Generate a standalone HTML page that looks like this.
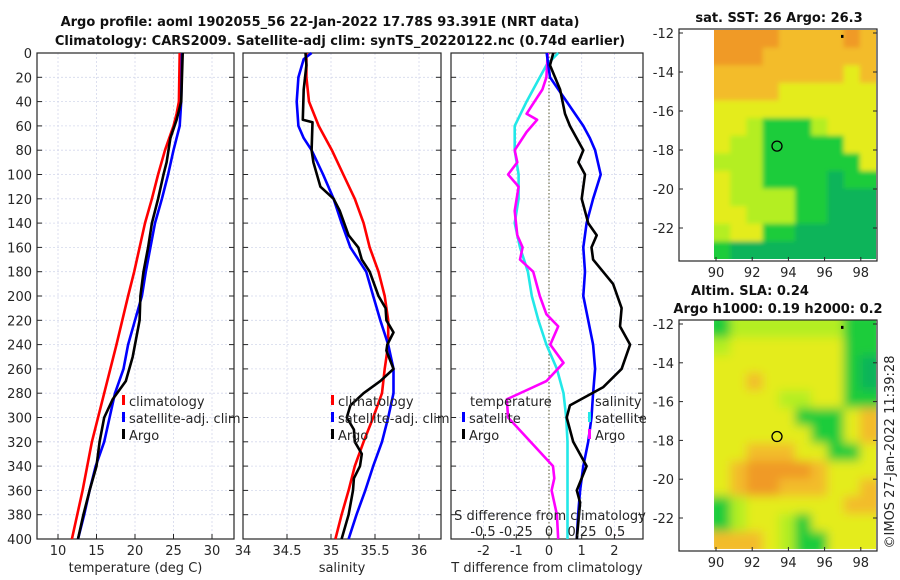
<!DOCTYPE html>
<html><head><meta charset="utf-8">
<style>
html,body{margin:0;padding:0;background:#fff;}
svg{display:block;font-family:"DejaVu Sans","Liberation Sans",sans-serif;}
</style></head>
<body>
<svg id="fig" width="900" height="580" viewBox="0 0 900 580" xmlns="http://www.w3.org/2000/svg">
<g id="maps"></g>
<g id="plots"></g>
</svg>
<script>
// ---------- data ----------
const depthTicks = [0,20,40,60,80,100,120,140,160,180,200,220,240,260,280,300,320,340,360,380,400];
const tempTicks = [10,15,20,25,30];
const salTicks = [34,34.5,35,35.5,36];
const tdiffTicks = [-2,-1,0,1,2];
const sdiffTickLabels = ["-0.5","-0.25","0","0.25","0.5"];
const sdiffTicks = [-0.5,-0.25,0,0.25,0.5];

const climTempDepth = [0,40,50,60,80,100,120,140,160,180,200,240,280,320,360,400];
const climTemp = [25.8,25.7,25.4,25.0,23.9,23.0,22.2,21.3,20.6,19.9,19.1,17.6,16.0,14.4,13.2,11.8];
const satTempDepth = [0,40,60,80,100,120,140,160,180,200,220,240,260,280,300,320,340,360,380,400];
const satTemp = [26.1,26.0,25.8,25.0,24.3,23.5,22.6,22.0,21.4,20.9,20.0,19.1,18.5,17.4,16.7,16.0,14.9,14.1,13.4,12.6];
const argoTempDepth = [0,40,55,70,90,100,120,140,160,180,200,220,240,250,270,285,300,320,340,360,380,400];
const argoTemp = [26.2,26.0,25.4,24.6,24.1,23.7,23.0,22.2,21.7,21.1,20.7,20.6,20.0,19.7,18.8,17.1,16.0,15.4,15.0,14.1,13.3,12.6];

const climSalDepth = [0,20,40,60,80,100,120,140,160,180,200,220,240,260,280,300,320,340,360,380,400];
const climSal = [34.72,34.72,34.75,34.86,35.01,35.14,35.27,35.37,35.44,35.54,35.61,35.65,35.65,35.61,35.58,35.48,35.37,35.27,35.20,35.12,35.05];
const satSalDepth = [0,5,20,40,60,70,80,100,120,140,160,180,200,220,240,260,280,300,320,340,360,380,400];
const satSal = [34.78,34.69,34.63,34.61,34.63,34.69,34.78,34.91,35.03,35.12,35.22,35.40,35.48,35.56,35.65,35.71,35.71,35.65,35.58,35.48,35.39,35.29,35.20];
const argoSalDepth = [0,10,30,55,57,80,90,110,120,130,150,160,170,180,200,210,220,230,240,245,260,270,280,290,300,310,320,330,340,350,360,380,400];
const argoSal = [34.71,34.72,34.69,34.68,34.79,34.78,34.80,34.88,35.03,35.10,35.20,35.31,35.35,35.44,35.54,35.62,35.63,35.71,35.64,35.63,35.71,35.56,35.37,35.22,35.18,35.26,35.27,35.35,35.33,35.26,35.25,35.20,35.12];

const satTdiffDepth = [0,20,40,60,70,80,100,120,140,160,180,200,220,240,260,280,300,320,340,360,380,400];
const satTdiff = [-0.07,0.03,0.54,1.05,1.25,1.41,1.58,1.35,1.15,1.05,1.1,1.05,1.2,1.35,1.41,1.35,1.3,1.2,1.05,0.95,0.89,0.85];
const argoTdiffDepth = [0,10,30,50,60,80,90,100,120,140,150,160,170,190,210,225,240,260,275,290,300,320,340,360,370,400];
const argoTdiff = [0.13,0.03,0.34,0.49,0.64,1.05,0.9,1.1,1.0,1.2,1.46,1.3,1.35,1.96,2.22,2.17,2.48,2.22,1.66,0.64,0.54,0.74,1.15,0.85,0.95,0.85];
const satSdiffDepth = [0,10,20,40,60,80,100,120,140,160,180,200,220,240,260,280,300,320,340,360,380,400];
const satSdiff = [0.07,-0.02,-0.07,-0.17,-0.26,-0.26,-0.23,-0.23,-0.26,-0.22,-0.16,-0.13,-0.08,-0.02,0.06,0.11,0.13,0.14,0.14,0.14,0.14,0.14];
const argoSdiffDepth = [0,20,30,45,50,55,65,80,90,100,110,130,150,160,170,180,200,215,225,240,255,270,285,300,320,340,350,360,380,400];
const argoSdiff = [-0.01,-0.02,-0.05,-0.14,-0.17,-0.09,-0.17,-0.26,-0.24,-0.31,-0.23,-0.26,-0.24,-0.2,-0.22,-0.12,-0.07,-0.02,0.07,0.01,0.11,-0.02,-0.32,-0.31,-0.14,0.03,0.04,0.02,0.06,0.07];

const latTicks = [-12,-14,-16,-18,-20,-22];
const lonTicks = [90,92,94,96,98];
const sstGrid = [
"OOOOooooOo","OOOooooooo","ooooooooYo","ooooYYYYYY","YYYYYYYYYY","YYyGGGyYYY",
"YyyGGGGGYY","yyyGGGGGGY","YyyGGGGgGG","YyyyyGGggg","YYyyyGGggg","yYYGGggggg","Gggggggggg"];
const slaGrid = [
"GyyyyyyyGG","yYYYYYYYGG","YYYYYYYYGg","YYoYYYYYGg","YYYYyyYYGG","YYYYYGGGYo",
"YYYYYYGGYo","YYoooYYGGY","YoOOOOoYYY","YoOOoooYYo","GyYYYYYYoo","GyYYyGYYYY","oooYyGGYYY"];

// ---------- helpers ----------
const NS = "http://www.w3.org/2000/svg";
function mk(parent, tag, attrs, name, text){
  const el = document.createElementNS(NS, tag);
  for (const k in attrs) el.setAttribute(k, attrs[k]);
  
  
  if (text !== undefined) el.textContent = text;
  parent.appendChild(el);
  return el;
}
const plots = document.getElementById('plots');
const maps = document.getElementById('maps');
const TOP = 53, BOT = 539;
const yD = d => TOP + d * (BOT - TOP) / 400;
const xT = t => 58 + (t - 10) * 7.7;
const xS = s => 243 + (s - 34) * 88;
const xTD = t => 549 + t * 32.7;
const xSD = s => 549 + s * 132;

function panel(x0, x1, vticks, vx, vlabels, xtitle, showY){
  const g = mk(plots, 'g', {}, 'profile-panel');
  depthTicks.forEach(d => {
    mk(g, 'line', {x1:x0, x2:x1, y1:yD(d), y2:yD(d), stroke:'#d4d8ec', 'stroke-width':0.8, 'stroke-dasharray':'2,2'}, 'depth-gridline');
    mk(g, 'line', {x1:x0, x2:x0+5, y1:yD(d), y2:yD(d), stroke:'#262626', 'stroke-width':1}, 'depth-tick');
    mk(g, 'line', {x1:x1-5, x2:x1, y1:yD(d), y2:yD(d), stroke:'#262626', 'stroke-width':1}, 'depth-tick');
    if (showY) mk(g, 'text', {x:x0-5, y:yD(d)+5, 'text-anchor':'end', 'font-size':13, fill:'#262626'}, 'depth-tick-label', String(d));
  });
  vticks.forEach((v, i) => {
    const x = vx(v);
    mk(g, 'line', {x1:x, x2:x, y1:TOP, y2:BOT, stroke:'#d4d8ec', 'stroke-width':0.8, 'stroke-dasharray':'2,2'}, 'vertical-gridline');
    mk(g, 'line', {x1:x, x2:x, y1:BOT-5, y2:BOT, stroke:'#262626'}, 'x-tick');
    mk(g, 'text', {x:x, y:555, 'text-anchor':'middle', 'font-size':13, fill:'#262626'}, 'x-tick-label', vlabels[i]);
  });
  mk(g, 'rect', {x:x0, y:TOP, width:x1-x0, height:BOT-TOP, fill:'none', stroke:'#262626', 'stroke-width':1.2}, 'panel-frame');
  mk(g, 'text', {x:(x0+x1)/2, y:572, 'text-anchor':'middle', 'font-size':13, fill:'#262626'}, 'x-axis-title', xtitle);
  return g;
}
function series(g, depths, vals, xf, color, name){
  const pts = depths.map((d, i) => xf(vals[i]).toFixed(1) + ',' + yD(d).toFixed(1)).join(' ');
  mk(g, 'polyline', {points:pts, fill:'none', stroke:color, 'stroke-width':2.6, 'stroke-linejoin':'round'}, name);
}
function legendEntry(g, x, y, color, label, name){
  mk(g, 'rect', {x:x, y:y-11, width:3, height:10, fill:color}, name + '-marker');
  mk(g, 'text', {x:x+7, y:y, 'font-size':13, fill:'#262626'}, name + '-label', label);
}

// titles
mk(plots, 'text', {x:320, y:26, 'text-anchor':'middle', 'font-size':13, 'font-weight':'bold', fill:'#111'}, 'chart-title-line1', 'Argo profile: aoml 1902055_56 22-Jan-2022 17.78S 93.391E (NRT data)');
mk(plots, 'text', {x:340, y:45, 'text-anchor':'middle', 'font-size':13, 'font-weight':'bold', fill:'#111'}, 'chart-title-line2', 'Climatology: CARS2009. Satellite-adj clim: synTS_20220122.nc (0.74d earlier)');

// panel 1
const p1 = panel(37, 234, tempTicks, xT, tempTicks.map(String), 'temperature (deg C)', true);
series(p1, climTempDepth, climTemp, xT, '#ff0000', 'climatology-temperature-line');
series(p1, satTempDepth, satTemp, xT, '#0000ff', 'satellite-temperature-line');
series(p1, argoTempDepth, argoTemp, xT, '#000000', 'argo-temperature-line');
legendEntry(p1, 122, 406, '#ff0000', 'climatology', 'legend-climatology');
legendEntry(p1, 122, 423, '#0000ff', 'satellite-adj. clim', 'legend-satellite');
legendEntry(p1, 122, 440, '#000000', 'Argo', 'legend-argo');

// panel 2
const p2 = panel(243, 441, salTicks, xS, ['34','34.5','35','35.5','36'], 'salinity', false);
series(p2, climSalDepth, climSal, xS, '#ff0000', 'climatology-salinity-line');
series(p2, satSalDepth, satSal, xS, '#0000ff', 'satellite-salinity-line');
series(p2, argoSalDepth, argoSal, xS, '#000000', 'argo-salinity-line');
legendEntry(p2, 331, 406, '#ff0000', 'climatology', 'legend-climatology');
legendEntry(p2, 331, 423, '#0000ff', 'satellite-adj. clim', 'legend-satellite');
legendEntry(p2, 331, 440, '#000000', 'Argo', 'legend-argo');

// panel 3
const p3 = panel(451, 643, tdiffTicks, xTD, tdiffTicks.map(String), 'T difference from climatology', false);
mk(p3, 'line', {x1:549, x2:549, y1:TOP, y2:BOT, stroke:'#5a5a30', 'stroke-width':1, 'stroke-dasharray':'1.5,2'}, 'zero-line');
series(p3, satSdiffDepth, satSdiff, xSD, '#22e8e8', 'satellite-salinity-diff-line');
series(p3, argoSdiffDepth, argoSdiff, xSD, '#ff00ff', 'argo-salinity-diff-line');
series(p3, satTdiffDepth, satTdiff, xTD, '#0000ff', 'satellite-temperature-diff-line');
series(p3, argoTdiffDepth, argoTdiff, xTD, '#000000', 'argo-temperature-diff-line');
mk(p3, 'text', {x:470, y:406, 'font-size':13, fill:'#262626'}, 'legend-temperature-header', 'temperature');
mk(p3, 'text', {x:595, y:406, 'font-size':13, fill:'#262626'}, 'legend-salinity-header', 'salinity');
legendEntry(p3, 462, 423, '#0000ff', 'satellite', 'legend-temp-satellite');
legendEntry(p3, 462, 440, '#000000', 'Argo', 'legend-temp-argo');
legendEntry(p3, 588, 423, '#22e8e8', 'satellite', 'legend-sal-satellite');
legendEntry(p3, 588, 440, '#ff00ff', 'Argo', 'legend-sal-argo');
mk(p3, 'text', {x:550, y:520, 'text-anchor':'middle', 'font-size':13, fill:'#262626'}, 's-diff-axis-title', 'S difference from climatology');
sdiffTicks.forEach((s, i) => {
  mk(p3, 'text', {x:xSD(s), y:536, 'text-anchor':'middle', 'font-size':13, fill:'#262626'}, 's-diff-tick-label', sdiffTickLabels[i]);
});

// ---------- maps ----------
const colors = {O:'#f09a28', o:'#f3bc2a', Y:'#e4ec1a', y:'#b4ee22', G:'#1ccc3a', g:'#0cb45a'};
function mapPanel(top, bottom, imgTop, imgBot, grid, blur, name){
  const g = mk(maps, 'g', {}, name);
  const ix0 = 714, ix1 = 876;
  const rows = grid.length, cols = 10;
  const cw = (ix1-ix0)/cols, ch = (imgBot-imgTop)/rows;
  const clipId = name + '-clip';
  const defs = mk(g, 'defs', {}, 'map-defs');
  const cp = mk(defs, 'clipPath', {id:clipId}, 'map-clip');
  mk(cp, 'rect', {x:ix0, y:imgTop, width:ix1-ix0, height:imgBot-imgTop}, 'map-clip-rect');
  let filt = '';
  if (blur > 0){
    const f = mk(defs, 'filter', {id:name+'-blur', x:'-10%', y:'-10%', width:'120%', height:'120%'}, 'map-blur');
    mk(f, 'feGaussianBlur', {stdDeviation:blur}, 'map-blur-op');
    filt = 'url(#' + name + '-blur)';
  }
  const img = mk(g, 'g', {'clip-path':'url(#'+clipId+')'}, 'map-image');
  const inner = mk(img, 'g', filt ? {filter:filt} : {}, 'map-cells');
  grid.forEach((row, r) => {
    for (let c = 0; c < cols; c++){
      const ch_ = row[c] || 'Y';
      const ext = (r === 0 ? 8 : 0);
      const extB = (r === rows-1 ? 8 : 0);
      const extL = (c === 0 ? 8 : 0);
      const extR = (c === cols-1 ? 8 : 0);
      mk(inner, 'rect', {x:ix0 + c*cw - extL, y:imgTop + r*ch - ext, width:cw+0.6+extL+extR, height:ch+0.6+ext+extB, fill:colors[ch_] || colors.o}, 'map-cell');
    }
  });
  const latY = lat => top + 4 + (-12 - lat) * (bottom - top - 4 - 33) / 10 ;
  latTicks.forEach(l => {
    const y = latY(l);
    mk(g, 'line', {x1:679, x2:683, y1:y, y2:y, stroke:'#262626'}, 'lat-tick');
    mk(g, 'line', {x1:873, x2:877, y1:y, y2:y, stroke:'#262626'}, 'lat-tick');
    mk(g, 'text', {x:674, y:y+5, 'text-anchor':'end', 'font-size':13, fill:'#262626'}, 'lat-tick-label', String(l));
  });
  lonTicks.forEach(l => {
    const x = 716 + (l - 90) * 18.1;
    mk(g, 'line', {x1:x, x2:x, y1:bottom-4, y2:bottom, stroke:'#262626'}, 'lon-tick');
    mk(g, 'text', {x:x, y:bottom+16, 'text-anchor':'middle', 'font-size':13, fill:'#262626'}, 'lon-tick-label', String(l));
  });
  mk(g, 'rect', {x:679, y:top, width:198, height:bottom-top, fill:'none', stroke:'#262626', 'stroke-width':1.2}, 'map-frame');
  mk(g, 'circle', {cx:777, cy:latY(-17.8), r:5, fill:'none', stroke:'#000', 'stroke-width':1.3}, 'argo-location-marker');
  mk(g, 'rect', {x:841, y:latY(-12.2)-2, width:2.5, height:3, fill:'#000'}, 'island-dot');
  return g;
}
mapPanel(29, 261, 30, 259, sstGrid, 2.5, 'sst-map');
mapPanel(320, 551, 320, 549, slaGrid, 5, 'sla-map');
mk(maps, 'text', {x:779, y:22, 'text-anchor':'middle', 'font-size':13, 'font-weight':'bold', fill:'#111'}, 'sst-map-title', 'sat. SST: 26 Argo: 26.3');
mk(maps, 'text', {x:750, y:295, 'text-anchor':'middle', 'font-size':13, 'font-weight':'bold', fill:'#111'}, 'sla-map-title-line1', 'Altim. SLA: 0.24');
mk(maps, 'text', {x:778, y:313, 'text-anchor':'middle', 'font-size':13, 'font-weight':'bold', fill:'#111'}, 'sla-map-title-line2', 'Argo h1000: 0.19 h2000: 0.2');
mk(maps, 'text', {x:0, y:0, transform:'translate(894,452) rotate(-90)', 'text-anchor':'middle', 'font-size':13, fill:'#262626'}, 'timestamp-credit', '©IMOS 27-Jan-2022 11:39:28');
</script>
</body></html>
